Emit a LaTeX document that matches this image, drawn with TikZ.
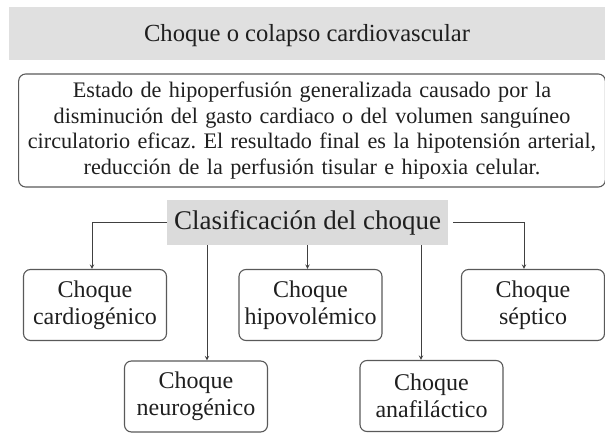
\documentclass[tikz,border=0pt]{standalone}
\usepackage{fontspec}
\setmainfont{Liberation Serif}
\usepackage{tikz}
\frenchspacing

\begin{document}
\begin{tikzpicture}[
    x=1pt, y=-1pt,
    title/.style={font=\fontsize{24.6}{28}\selectfont, text=black!88},
    desc/.style={draw=black!65, line width=1.1pt, rounded corners=7pt,
                 minimum width=584pt, minimum height=113pt, align=center,
                 text width=580pt, font=\fontsize{22.2}{25.5}\selectfont, text=black!88},
    head/.style={fill=black!14, minimum width=281pt, minimum height=45pt,
                 font=\fontsize{27}{30}\selectfont, text=black!88},
    box/.style={draw=black!65, line width=1.1pt, rounded corners=7pt,
                minimum width=143pt, minimum height=71pt, align=center,
                font=\fontsize{24}{27}\selectfont, text=black!88},
    arrow/.style={->, >=stealth, line width=1pt, draw=black!75}
]
\useasboundingbox (0,0) rectangle (605,435);

% --- Title and definition ---
\fill[black!12] (9,7) rectangle (605,60);
\node[title] (titulo) at (307,36) {Choque o colapso cardiovascular};
\node[desc] (def) at (312,130.5)
    {Estado de hipoperfusión generalizada causado por la\\
     disminución del gasto cardiaco o del volumen sanguíneo\\
     circulatorio eficaz. El resultado final es la hipotensión arterial,\\
     reducción de la perfusión tisular e hipoxia celular.};

% --- Classification ---
\node[head] (clasif) at (307.5,222.5) {Clasificación del choque};

\node[box] (cardio) at (95,305)    {Choque\\cardiogénico};
\node[box] (hipo)   at (310.5,305) {Choque\\hipovolémico};
\node[box] (septic) at (533,305)   {Choque\\séptico};
\node[box] (neuro)  at (196,396.5) {Choque\\neurogénico};
\node[box] (anaf)   at (431.5,396) {Choque\\anafiláctico};

\draw[arrow] (clasif.west) -| ([xshift=-3pt]cardio.north);
\draw[arrow] ([xshift=5pt]clasif.east) -| ([xshift=-9pt]septic.north);
\draw[arrow] (clasif.south) -- (clasif.south |- hipo.north);
\draw[arrow] ([xshift=11pt]neuro.north |- clasif.south) -- ([xshift=11pt]neuro.north);
\draw[arrow] ([xshift=-10.5pt]anaf.north |- clasif.south) -- ([xshift=-10.5pt]anaf.north);

\end{tikzpicture}
\end{document}
